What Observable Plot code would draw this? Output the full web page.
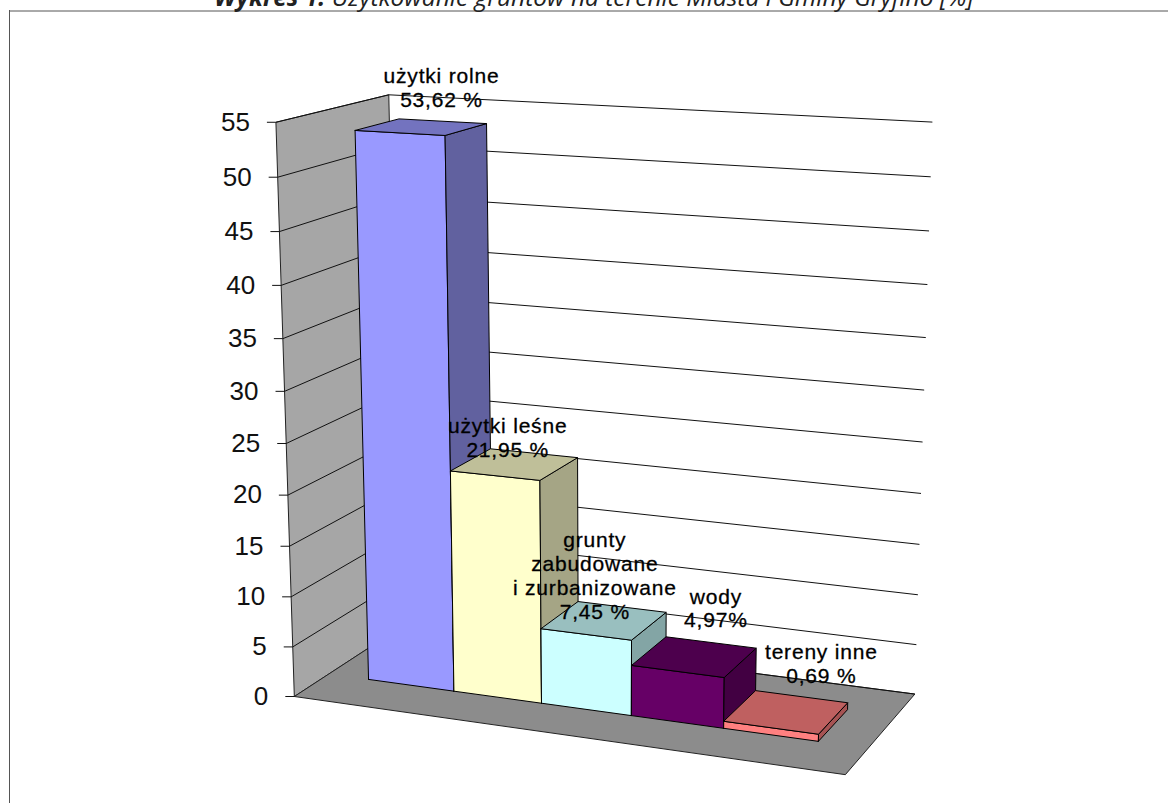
<!DOCTYPE html>
<html><head><meta charset="utf-8">
<script src="https://cdn.jsdelivr.net/npm/d3@7"></script>
<script src="https://cdn.jsdelivr.net/npm/@observablehq/plot@0.6"></script>
<style>
html,body{margin:0;padding:0;background:#fff;overflow:hidden}
#title{position:absolute;left:10px;width:1168px;top:-20px;text-align:center;font:italic 24.5px "Open Sans",sans-serif;color:#222;white-space:nowrap}
#chart{position:absolute;left:0;top:0}
.bar-label{letter-spacing:0.8px}
</style></head><body>
<div id="chart"></div>
<div id="title"><b>Wykres 1.</b> Użytkowanie gruntów na terenie Miasta i Gminy Gryfino [%]</div>
<script>
const categories = ["użytki rolne","użytki leśne","grunty\nzabudowane\ni zurbanizowane","wody","tereny inne"];
const values = [53.62,21.95,7.45,4.97,0.69];
const valueLabels = ["53,62 %","21,95 %","7,45 %","4,97%","0,69 %"];
const ticks = [0,5,10,15,20,25,30,35,40,45,50,55];
const frontColors = ["#9999ff","#ffffcc","#ccffff","#660066","#ff8080"];
const sideColors  = ["#61619f","#a5a585","#83a5a5","#420042","#a65353"];
const topColors   = ["#7373bf","#bfbf99","#99bfbf","#4d004d","#bf6060"];
const labelDx = [-1,-26,-27,5,20];
const labelDy = [-14,4,12,-15,-14];

// Perspective camera: calibrated on the chart box corners (u along categories, w depth, v value)
const calib = [
 [0,0,0,294,695],[1,0,0,845,775],[1,1,0,914,693],[0,1,0,400,628],
 [0,0,55,276,122],[1,1,55,932,122],[0,1,55,388,94],[0,0,27.5,284,417],[1,1,27.5,923,415]
];
function solve(A,b){const n=b.length,M=A.map((r,i)=>[...r,b[i]]);
 for(let i=0;i<n;i++){let p=i;for(let r=i+1;r<n;r++)if(Math.abs(M[r][i])>Math.abs(M[p][i]))p=r;[M[i],M[p]]=[M[p],M[i]];
  for(let r=0;r<n;r++)if(r!==i){const f=M[r][i]/M[i][i];for(let c=i;c<=n;c++)M[r][c]-=f*M[i][c];}}
 return M.map((r,i)=>r[n]/r[i]);}
const rows=[],rhs=[];
for(const [u,w,v,x,y] of calib){const X=[u,w,v/55,1];
 rows.push([...X,0,0,0,0,...X.slice(0,3).map(a=>-a*x)]);rhs.push(x);
 rows.push([0,0,0,0,...X,...X.slice(0,3).map(a=>-a*y)]);rhs.push(y);}
const AtA=Array.from({length:11},(_,i)=>Array.from({length:11},(_,j)=>d3.sum(rows,r=>r[i]*r[j])));
const Atb=Array.from({length:11},(_,i)=>d3.sum(rows,(r,k)=>r[i]*rhs[k]));
const h=solve(AtA,Atb);
function project(u,w,v){const s=v/55,d=h[8]*u+h[9]*w+h[10]*s+1;
 return {x:(h[0]*u+h[1]*w+h[2]*s+h[3])/d,y:(h[4]*u+h[5]*w+h[6]*s+h[7])/d};}

const u0=0.079,du=0.167,w0=0.31,w1=0.71;
const face=(pts,fill,stroke="#000",sw=1)=>{const p=pts.map(a=>project(...a));p.push(p[0]);
 return Plot.line(p,{x:"x",y:"y",fill,stroke,strokeWidth:sw,curve:"linear"});};

const marks=[];
marks.push(Plot.ruleY([10.5],{x1:9,x2:1168,stroke:"#555"}));
marks.push(Plot.ruleX([9],{y1:10,y2:803,stroke:"#555"}));
marks.push(face([[0,1,0],[1,1,0],[1,1,55],[0,1,55]],"#fff","none"));
marks.push(face([[0,0,0],[0,1,0],[0,1,55],[0,0,55]],"#a6a6a6","#222"));
marks.push(face([[0,0,0],[1,0,0],[1,1,0],[0,1,0]],"#8c8c8c","#222"));
marks.push(Plot.link(ticks.filter(t=>t>0),{x1:t=>project(0,0,t).x,y1:t=>project(0,0,t).y,x2:t=>project(0,1,t).x,y2:t=>project(0,1,t).y,stroke:"#111"}));
marks.push(Plot.link(ticks,{x1:t=>project(0,1,t).x,y1:t=>project(0,1,t).y,x2:t=>project(1,1,t).x,y2:t=>project(1,1,t).y,stroke:"#111"}));
marks.push(Plot.link(ticks,{x1:t=>project(0,0,t).x-9,y1:t=>project(0,0,t).y,x2:t=>project(0,0,t).x,y2:t=>project(0,0,t).y,stroke:"#111"}));
marks.push(Plot.text(ticks,{x:t=>project(0,0,t).x-26,y:t=>project(0,0,t).y,text:t=>String(t),textAnchor:"end",fontSize:26,fontFamily:"Liberation Sans",fill:"#111"}));
values.forEach((v,i)=>{const a=u0+i*du,b=a+du;
 marks.push(face([[a,w0,0],[b,w0,0],[b,w0,v],[a,w0,v]],frontColors[i]));
 marks.push(face([[b,w0,0],[b,w1,0],[b,w1,v],[b,w0,v]],sideColors[i]));
 marks.push(face([[a,w0,v],[b,w0,v],[b,w1,v],[a,w1,v]],topColors[i]));
});
const labelRows=values.map((v,i)=>{const p=project(u0+(i+.5)*du,w1,v);
 return {x:p.x+labelDx[i],y:p.y+labelDy[i],t:categories[i]+"\n"+valueLabels[i]};});
marks.push(Plot.text(labelRows,{x:"x",y:"y",text:"t",textAnchor:"middle",lineAnchor:"bottom",lineHeight:1.14,fontSize:21,fontFamily:"Liberation Sans",fill:"#000",stroke:"#000",strokeWidth:0.3,className:"bar-label"}));

const chart=Plot.plot({width:1168,height:803,margin:0,
 x:{domain:[0,1168],range:[0,1168],axis:null},
 y:{domain:[0,803],range:[0,803],axis:null},
 style:{background:"#fff"},marks});
document.getElementById("chart").append(chart);
</script></body></html>
